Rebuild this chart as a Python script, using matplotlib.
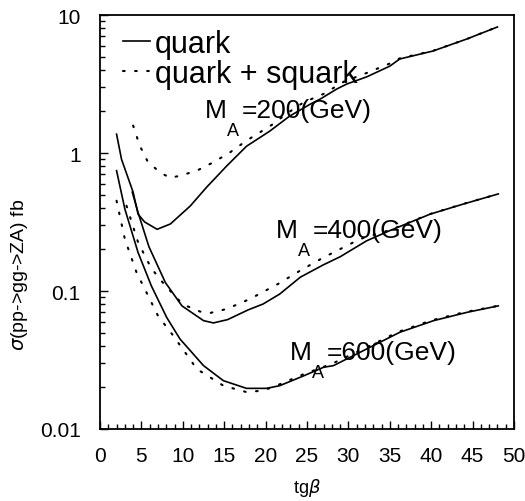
import matplotlib
matplotlib.use('Agg')
import matplotlib.pyplot as plt
from matplotlib.transforms import offset_copy
from matplotlib.ticker import MultipleLocator, LogLocator, NullFormatter, FixedLocator, FixedFormatter

plt.rcParams['font.family'] = ['Liberation Sans', 'DejaVu Sans']

# M_A = 200 GeV
tg_200_q = [2.0, 2.6, 4.0, 4.6, 5.4, 6.9, 8.5, 10.9, 12.9, 15.3, 17.7, 20.5, 22.9,
            25.4, 26.6, 28.6, 29.8, 32.2, 35.0, 36.2, 40.2, 44.3, 48.0]
sig_200_q = [1.37, 0.90, 0.52, 0.36, 0.316, 0.28, 0.306, 0.413, 0.567, 0.805, 1.12, 1.44, 1.85,
             2.26, 2.46, 2.91, 3.16, 3.56, 4.26, 4.80, 5.48, 6.70, 8.19]
tg_200_qs = [4.0, 4.8, 5.8, 7.25, 8.45, 9.7, 11.7, 13.7, 15.7, 17.7, 19.3, 20.9, 22.5,
             24.6, 27.0, 29.5, 32.2, 35.0, 36.2, 40.2, 44.3, 48.0]
sig_200_qs = [1.58, 1.13, 0.857, 0.725, 0.66, 0.685, 0.745, 0.857, 1.01, 1.23, 1.41, 1.62, 1.92,
              2.33, 2.68, 3.3, 3.8, 4.45, 4.85, 5.5, 6.7, 8.2]

# M_A = 400 GeV
tg_400_q = [3.9, 4.6, 5.9, 7.9, 9.9, 12.5, 13.7, 15.4, 17.9, 19.7, 21.7, 24.2,
            27.0, 29.0, 32.2, 35.0, 39.9, 43.9, 48.1]
sig_400_q = [0.52, 0.37, 0.21, 0.115, 0.078, 0.061, 0.0587, 0.062, 0.073, 0.0805, 0.095, 0.126,
             0.155, 0.177, 0.231, 0.274, 0.361, 0.427, 0.505]
tg_400_qs = [3.2, 4.6, 6.2, 7.85, 10.0, 12.1, 13.3, 15.3, 18.1, 21.5, 24.3,
             27.0, 31.4, 33.5, 35.0, 39.9, 43.9, 48.1]
sig_400_qs = [0.415, 0.225, 0.146, 0.11, 0.08, 0.0709, 0.0693, 0.0741, 0.0875, 0.1125, 0.142,
              0.175, 0.238, 0.26, 0.276, 0.362, 0.428, 0.505]

# M_A = 600 GeV
tg_600_q = [2.0, 3.0, 4.6, 6.2, 8.05, 9.66, 12.5, 14.9, 17.7, 20.1, 21.7, 24.4,
            27.0, 28.2, 32.2, 36.2, 40.3, 44.3, 48.1]
sig_600_q = [0.745, 0.393, 0.19, 0.109, 0.0644, 0.0449, 0.0288, 0.0224, 0.0197, 0.0197, 0.0206, 0.024,
             0.028, 0.0288, 0.038, 0.0502, 0.061, 0.070, 0.078]
tg_600_qs = [2.0, 3.0, 4.4, 5.6, 7.0, 8.85, 11.7, 14.9, 17.7, 19.7, 21.3, 24.4,
             28.0, 32.0, 36.0, 40.0, 44.0, 48.0]
sig_600_qs = [0.451, 0.238, 0.137, 0.098, 0.0662, 0.0474, 0.0272, 0.0206, 0.0185, 0.019, 0.0206, 0.0247,
              0.0297, 0.0385, 0.0505, 0.0612, 0.0702, 0.078]

x_ticks = [0, 5, 10, 15, 20, 25, 30, 35, 40, 45, 50]
y_ticks = [0.01, 0.1, 1, 10]
y_ticklabels = ['0.01', '0.1', '1', '10']

fig = plt.figure(figsize=(5.25, 5.02), dpi=100)
ax = fig.add_axes([100 / 525, 1 - 430 / 502, 414 / 525, 414 / 502])

solid = dict(color='black', lw=1.2)
dotted = dict(color='black', lw=1.5, linestyle=(0, (0.8, 5)), dash_capstyle='round')

ax.plot(tg_200_q, sig_200_q, label='quark', **solid)
ax.plot(tg_200_qs, sig_200_qs, label='quark + squark', **dotted)
ax.plot(tg_400_q, sig_400_q, **solid)
ax.plot(tg_400_qs, sig_400_qs, **dotted)
ax.plot(tg_600_q, sig_600_q, **solid)
ax.plot(tg_600_qs, sig_600_qs, **dotted)

ax.set_yscale('log')
ax.set_xlim(0, 50)
ax.set_ylim(0.01, 10)

ax.xaxis.set_major_locator(FixedLocator(x_ticks))
ax.xaxis.set_minor_locator(MultipleLocator(1))
ax.yaxis.set_major_locator(FixedLocator(y_ticks))
ax.yaxis.set_major_formatter(FixedFormatter(y_ticklabels))
ax.yaxis.set_minor_locator(LogLocator(base=10, subs=range(2, 10)))
ax.yaxis.set_minor_formatter(NullFormatter())

ax.tick_params(which='both', direction='in', top=False, right=False, labelsize=15, width=1.0)
ax.tick_params(which='major', length=6)
ax.tick_params(which='minor', length=3.5)
ax.tick_params(axis='x', pad=12)
ax.tick_params(axis='y', pad=14)
for s in ax.spines.values():
    s.set_linewidth(1.3)

ax.set_xlabel(r'tg$\beta$', fontsize=13, labelpad=8)
ax.set_ylabel(r'$\sigma$(pp->gg->ZA) fb', fontsize=14)
ax.yaxis.set_label_coords(-0.168, 0.375)

ax.legend(loc='upper left', bbox_to_anchor=(0.055, 0.966), frameon=False, fontsize=22,
          handlelength=0.88, handletextpad=0.17, labelspacing=0.0, borderpad=0, borderaxespad=0)


def mass_label(x, y, text):
    ax.text(x, y, 'M', fontsize=19, ha='left', va='baseline')
    tr = offset_copy(ax.transData, fig=fig, x=22, y=-18, units='dots')
    ax.text(x, y, 'A', transform=tr, fontsize=13, ha='left', va='baseline')
    tr = offset_copy(ax.transData, fig=fig, x=37, y=0, units='dots')
    ax.text(x, y, text, transform=tr, fontsize=19, ha='left', va='baseline')


mass_label(12.7, 1.82, '=200(GeV)')
mass_label(21.2, 0.246, '=400(GeV)')
mass_label(22.9, 0.0321, '=600(GeV)')

fig.savefig('out.png', dpi=100)
